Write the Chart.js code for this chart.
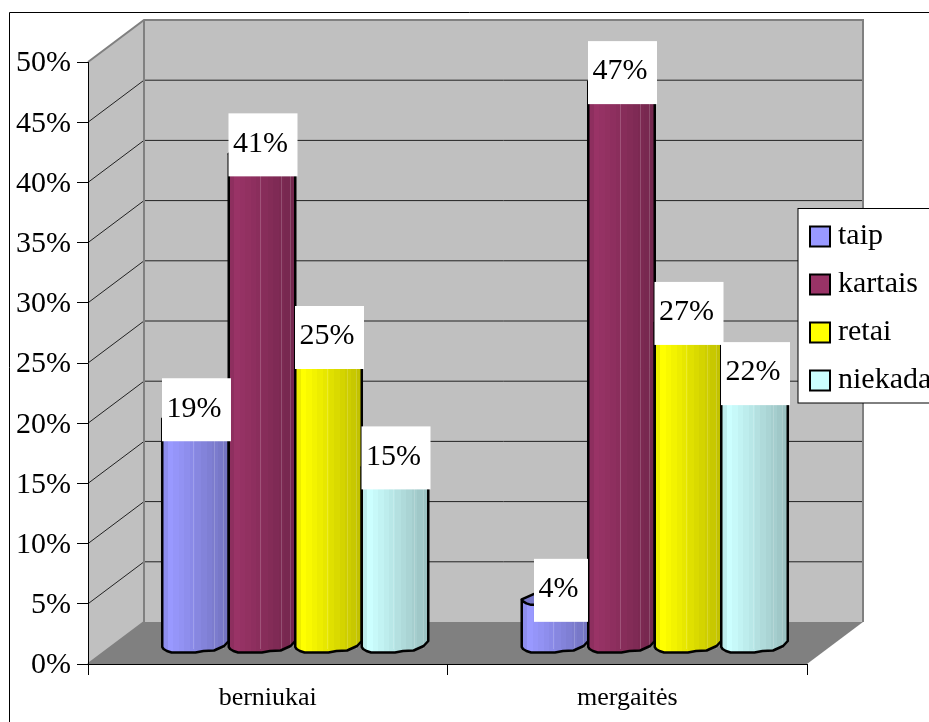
<!DOCTYPE html>
<html>
<head>
<meta charset="utf-8">
<style>
  html, body { margin: 0; padding: 0; background: #fff; overflow: hidden; }
  canvas { display: block; }
</style>
<script src="https://cdn.jsdelivr.net/npm/chart.js@4"></script>
</head>
<body>
<canvas id="chart" width="929" height="722"></canvas>
<script>
const categories = ['berniukai', 'mergaitės'];
const taip = [19, 4];
const kartais = [41, 47];
const retai = [25, 27];
const niekada = [15, 22];
const seriesNames = ['taip', 'kartais', 'retai', 'niekada'];
const seriesColors = ['#9999FF', '#993366', '#FFFF00', '#CCFFFF'];
const tickLabels = ['0%', '5%', '10%', '15%', '20%', '25%', '30%', '35%', '40%', '45%', '50%'];

const SERIF = '"Liberation Serif", "Times New Roman", serif';

// how far the back wall and the bars sit behind the front plane
const WALL_DX = 56, WALL_DY = -42;
const BAR_DX = 27.5, BAR_DY = -16.5;

// outline of the bottom of a cylinder, x as part of the width, y in px from its left end
const rimLow = [[0, 0], [0.02, 2], [0.07, 4], [0.14, 5.5], [0.5, 5.5], [0.62, 4], [0.78, 3.5], [0.93, -1], [1, -6]];
const rimHigh = [[0, 0], [0.17, -5], [0.4, -8], [0.8, -9], [1, -6]];

function shade(hex, f) {
  const n = parseInt(hex.slice(1), 16);
  const r = Math.round((n >> 16 & 255) * f);
  const g = Math.round((n >> 8 & 255) * f);
  const b = Math.round((n & 255) * f);
  return `rgb(${r},${g},${b})`;
}

function stripes(ctx, left, right, color) {
  const grad = ctx.createLinearGradient(left, 0, right, 0);
  const bands = 12;
  for (let i = 0; i < bands; i++) {
    const f = i === 0 ? 0.93 : 1 - 0.24 * (i - 1) / (bands - 2);
    grad.addColorStop(i / bands, shade(color, f));
    grad.addColorStop((i + 1) / bands, shade(color, f));
  }
  return grad;
}

function drawCylinder(ctx, bar, color) {
  const left = bar.x - bar.width / 2 + BAR_DX;
  const w = bar.width;
  const top = bar.y + BAR_DY;
  const bottom = bar.base + BAR_DY;

  ctx.beginPath();
  ctx.moveTo(left, top);
  rimLow.forEach(p => ctx.lineTo(left + p[0] * w, bottom + p[1]));
  ctx.lineTo(left + w, top - 6);
  ctx.closePath();
  ctx.fillStyle = stripes(ctx, left, left + w, color);
  ctx.fill();

  ctx.strokeStyle = 'rgba(255,255,255,0.18)';
  ctx.lineWidth = 1;
  [0.47, 0.78, 0.92].forEach(t => {
    ctx.beginPath();
    ctx.moveTo(Math.round(left + t * w) + 0.5, top + 6);
    ctx.lineTo(Math.round(left + t * w) + 0.5, bottom + 2);
    ctx.stroke();
  });

  ctx.strokeStyle = '#000';
  ctx.lineWidth = 2.5;
  ctx.lineJoin = 'round';
  ctx.beginPath();
  ctx.moveTo(left, top);
  rimLow.forEach(p => ctx.lineTo(left + p[0] * w, bottom + p[1]));
  ctx.lineTo(left + w, top - 6);
  ctx.stroke();

  // lid
  ctx.beginPath();
  rimHigh.forEach(p => ctx.lineTo(left + p[0] * w, top + p[1]));
  rimLow.slice().reverse().forEach(p => ctx.lineTo(left + p[0] * w, top + p[1]));
  ctx.closePath();
  ctx.fillStyle = shade(color, 0.78);
  ctx.fill();
  ctx.stroke();
}

function drawValueLabel(ctx, bar, value) {
  const text = value + '%';
  ctx.font = '30px ' + SERIF;
  ctx.textAlign = 'center';
  ctx.textBaseline = 'middle';
  const boxW = ctx.measureText(text).width + 14;
  // the short label gets pushed off the neighbouring bar in the original
  const cx = bar.x + BAR_DX + (value < 10 ? 6 : 1);
  const cy = bar.y + BAR_DY - 9;
  ctx.fillStyle = '#fff';
  ctx.fillRect(cx - boxW / 2, cy - 31.5, boxW, 63);
  ctx.fillStyle = '#000';
  ctx.fillText(text, cx - 2.5, cy - 1);
}

const scene = {
  id: 'scene',
  beforeDraw(chart) {
    const { ctx, chartArea: a } = chart;
    const yScale = chart.scales.y;
    ctx.save();
    ctx.fillStyle = '#fff';
    ctx.fillRect(0, 0, chart.width, chart.height);

    // walls and floor
    ctx.fillStyle = '#C0C0C0';
    ctx.fillRect(a.left + WALL_DX, a.top + WALL_DY, a.width, a.height);
    ctx.beginPath();
    ctx.moveTo(a.left, a.top);
    ctx.lineTo(a.left + WALL_DX, a.top + WALL_DY);
    ctx.lineTo(a.left + WALL_DX, a.bottom + WALL_DY);
    ctx.lineTo(a.left, a.bottom);
    ctx.closePath();
    ctx.fill();
    ctx.fillStyle = '#808080';
    ctx.beginPath();
    ctx.moveTo(a.left, a.bottom);
    ctx.lineTo(a.right, a.bottom);
    ctx.lineTo(a.right + WALL_DX, a.bottom + WALL_DY);
    ctx.lineTo(a.left + WALL_DX, a.bottom + WALL_DY);
    ctx.closePath();
    ctx.fill();

    // grid lines run over the side wall and the back wall
    ctx.strokeStyle = '#222';
    ctx.lineWidth = 1;
    yScale.ticks.forEach(t => {
      if (t.value === 0 || t.value === 50) return;
      const y = yScale.getPixelForValue(t.value);
      ctx.beginPath();
      ctx.moveTo(a.left, y);
      ctx.lineTo(a.left + WALL_DX, y + WALL_DY);
      ctx.lineTo(a.right + WALL_DX, y + WALL_DY);
      ctx.stroke();
    });

    // wall edges
    ctx.strokeStyle = '#808080';
    ctx.lineWidth = 2;
    ctx.beginPath();
    ctx.moveTo(a.left, a.top);
    ctx.lineTo(a.left + WALL_DX, a.top + WALL_DY);
    ctx.lineTo(a.right + WALL_DX, a.top + WALL_DY);
    ctx.lineTo(a.right + WALL_DX, a.bottom + WALL_DY);
    ctx.moveTo(a.left + WALL_DX, a.top + WALL_DY);
    ctx.lineTo(a.left + WALL_DX, a.bottom + WALL_DY);
    ctx.lineTo(a.left, a.bottom);
    ctx.stroke();

    // frame of the chart, cut off by the window on the right and at the bottom
    ctx.strokeStyle = '#000';
    ctx.lineWidth = 1;
    ctx.beginPath();
    ctx.moveTo(9.5, chart.height);
    ctx.lineTo(9.5, 12.5);
    ctx.lineTo(chart.width, 12.5);
    ctx.stroke();

    // legend
    ctx.fillStyle = '#fff';
    ctx.fillRect(798, 208.5, 140, 194.5);
    ctx.strokeRect(798, 208.5, 140, 194.5);
    ctx.font = '30px ' + SERIF;
    ctx.textAlign = 'left';
    ctx.textBaseline = 'middle';
    chart.data.datasets.forEach((ds, i) => {
      const y = 236.5 + i * 48;
      ctx.fillStyle = ds.backgroundColor;
      ctx.fillRect(810, y - 10, 20, 20);
      ctx.strokeStyle = '#000';
      ctx.lineWidth = 2;
      ctx.strokeRect(810, y - 10, 20, 20);
      ctx.fillStyle = '#000';
      ctx.fillText(ds.label, 838, y);
    });
    ctx.restore();
  },
  beforeDatasetsDraw(chart) {
    // own loop: the library paints the last dataset first, here each bar overlaps the one before
    const { ctx } = chart;
    ctx.save();
    chart.data.datasets.forEach((ds, i) => {
      chart.getDatasetMeta(i).data.forEach(bar => drawCylinder(ctx, bar, ds.backgroundColor));
    });
    chart.data.datasets.forEach((ds, i) => {
      chart.getDatasetMeta(i).data.forEach((bar, j) => drawValueLabel(ctx, bar, ds.data[j]));
    });
    ctx.restore();
    return false;
  }
};

new Chart(document.getElementById('chart'), {
  type: 'bar',
  plugins: [scene],
  data: {
    labels: categories,
    datasets: [taip, kartais, retai, niekada].map((values, i) => ({
      label: seriesNames[i],
      data: values,
      backgroundColor: seriesColors[i],
      categoryPercentage: 0.74,
      barPercentage: 1
    }))
  },
  options: {
    responsive: false,
    animation: false,
    devicePixelRatio: 1,
    layout: { padding: { top: 62, right: 122, left: 0, bottom: 0 } },
    plugins: { legend: { display: false }, tooltip: { enabled: false } },
    scales: {
      x: {
        afterFit: s => { s.height = 58; },
        grid: { drawOnChartArea: false, color: '#000', tickLength: 11 },
        border: { color: '#000' },
        ticks: { color: '#000', font: { family: SERIF, size: 26 }, padding: 8, maxRotation: 0 }
      },
      y: {
        min: 0,
        max: 50,
        afterFit: s => { s.width = 88; },
        grid: { drawOnChartArea: false, color: '#000', tickLength: 11 },
        border: { color: '#000' },
        ticks: {
          stepSize: 5,
          color: '#000',
          font: { family: SERIF, size: 30 },
          padding: 6,
          labelOffset: 1.5,
          callback: (v, i) => tickLabels[i]
        }
      }
    }
  }
});
</script>
</body>
</html>
